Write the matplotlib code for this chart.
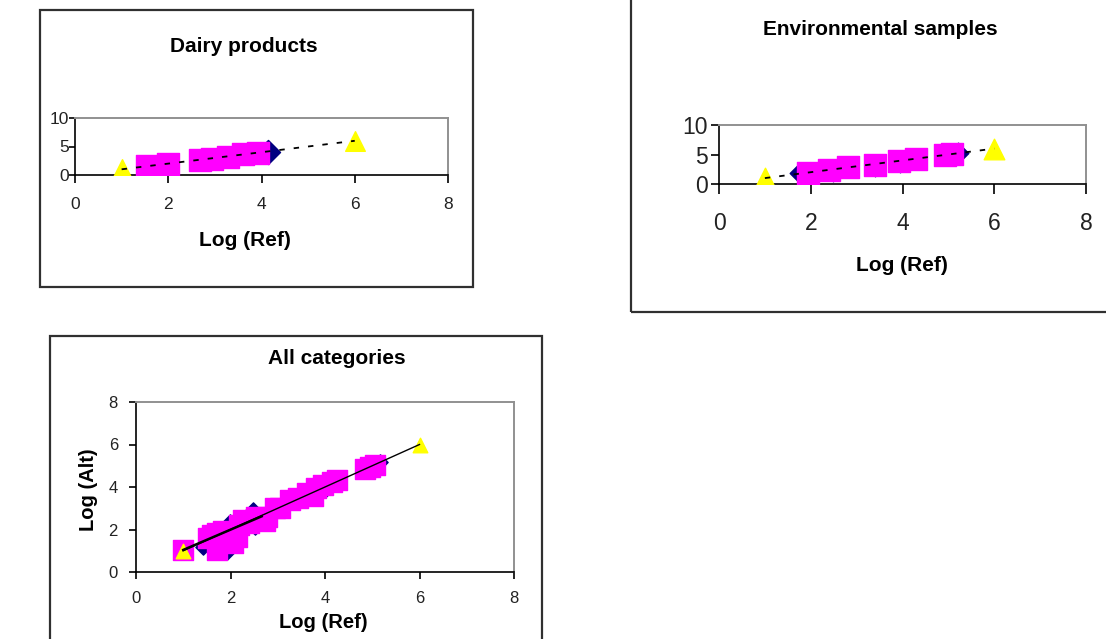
import matplotlib
matplotlib.use("Agg")
import matplotlib.pyplot as plt
from matplotlib.patches import Rectangle

plt.rcParams['font.family'] = ['Liberation Sans', 'DejaVu Sans']

# ---------------- data ----------------
# Dairy products
dairy_ref_x = [1, 6]
dairy_ref_y = [1, 6]
dairy_sq_x = [1.55, 2.0, 2.68, 2.93, 3.28, 3.61, 3.93]
dairy_sq_y = [1.6, 1.9, 2.6, 2.8, 3.2, 3.6, 3.9]
dairy_dm_x = [1.82, 4.14]
dairy_dm_y = [1.6, 4.0]

# Environmental samples
env_ref_x = [1, 6]
env_ref_y = [1, 6]
env_sq_x = [1.94, 2.40, 2.81, 3.40, 3.93, 4.29, 4.92, 5.07]
env_sq_y = [1.8, 2.4, 2.9, 3.3, 3.9, 4.3, 5.0, 5.1]
env_dm_x = [1.76, 1.99, 2.48, 3.40, 3.95, 5.20]
env_dm_y = [1.8, 1.6, 2.2, 3.0, 3.7, 5.2]

# All categories
all_ref_x = [1, 6]
all_ref_y = [1, 6]
all_sq_x = [1.0, 1.53, 1.60, 1.71, 1.71, 1.85, 2.06, 2.13, 2.17, 2.27, 2.40,
            2.55, 2.73, 2.77, 2.94, 3.05, 3.26, 3.43, 3.61, 3.75, 3.82, 3.96,
            4.14, 4.25, 4.85, 4.95, 5.06]
all_sq_y = [1.04, 1.59, 1.75, 1.82, 1.04, 1.95, 1.35, 1.66, 2.21, 2.45, 2.30,
            2.60, 2.40, 2.60, 3.00, 3.00, 3.39, 3.50, 3.70, 3.60, 3.94, 4.09,
            4.25, 4.33, 4.85, 4.95, 5.05]
all_dm_x = [1.42, 1.92, 1.99, 2.48, 2.52, 3.40, 4.00, 5.16]
all_dm_y = [1.19, 0.96, 2.37, 2.92, 2.13, 3.35, 3.85, 5.19]
all_trend2_x = [1.0, 2.66]
all_trend2_y = [1.04, 2.62]

W, H = 1106, 639
fig = plt.figure(figsize=(W / 100, H / 100), dpi=100)


def add_ax(l, r, t, b):
    return fig.add_axes([l / W, (H - b) / H, (r - l) / W, (b - t) / H])


def box(l, r, t, b):
    rect = Rectangle((l / W, (H - b) / H), (r - l) / W, (b - t) / H,
                     transform=fig.transFigure, fill=False,
                     edgecolor='#303030', linewidth=1.6)
    fig.add_artist(rect)


def style(ax, tsize, xpad, ypad, tlen_x, tlen_y):
    for s in ['top', 'right']:
        ax.spines[s].set_color('#909090')
        ax.spines[s].set_linewidth(1.4)
    for s in ['left', 'bottom']:
        ax.spines[s].set_color('black')
        ax.spines[s].set_linewidth(1.2)
    ax.tick_params(axis='x', direction='out', length=tlen_x, width=1.2,
                   labelsize=tsize, pad=xpad, labelcolor='#222222')
    ax.tick_params(axis='y', direction='out', length=tlen_y, width=1.2,
                   labelsize=tsize, pad=ypad, labelcolor='#222222')


def pix_axes(ax, l, r, t, b, px, py):
    return (px - l) / (r - l), (b - py) / (b - t)


# boxes
box(40, 473, 10, 287)
box(631, 1115, -5, 312)
box(50, 542, 336, 650)

dash = (0, (3, 5))

# ---- Panel 1: Dairy ----
L, R, T, B = 75, 448, 118, 175
ax1 = add_ax(L, R, T, B)
ax1.scatter(dairy_dm_x, dairy_dm_y, marker='D', s=150, color='#000080', zorder=2)
ax1.scatter(dairy_sq_x, dairy_sq_y, marker='s', s=270, color='#FF00FF', zorder=3)
ax1.scatter(dairy_ref_x, dairy_ref_y, marker='^', s=200, color='#FFFF00', zorder=4)
ax1.plot(dairy_ref_x, dairy_ref_y, color='black', linestyle=dash, linewidth=1.3, zorder=5)
ax1.set_xlim(0, 8)
ax1.set_ylim(0, 10)
ax1.set_xticks([0, 2, 4, 6, 8])
ax1.set_yticks([0, 5, 10])
style(ax1, 12.5, 10, 0, 6, 4)
tx, ty = pix_axes(ax1, L, R, T, B, 244, 47)
ax1.set_title('Dairy products', fontsize=15, fontweight='bold', x=tx, y=ty, va='center', pad=0)
ax1.set_xlabel('Log (Ref)', fontsize=15, fontweight='bold')
lx, ly = pix_axes(ax1, L, R, T, B, 245, 240)
ax1.xaxis.set_label_coords(lx, ly)
ax1.xaxis.label.set_va('center')

# ---- Panel 2: Environmental ----
L, R, T, B = 719, 1086, 125, 184
ax2 = add_ax(L, R, T, B)
ax2.scatter(env_dm_x, env_dm_y, marker='D', s=110, color='#000080', zorder=2)
ax2.scatter(env_sq_x, env_sq_y, marker='s', s=260, color='#FF00FF', zorder=3)
ax2.scatter(env_ref_x, env_ref_y, marker='^', s=220, color='#FFFF00', zorder=4)
ax2.plot(env_ref_x, env_ref_y, color='black', linestyle=dash, linewidth=1.3, zorder=5)
ax2.set_xlim(0, 8)
ax2.set_ylim(0, 10)
ax2.set_xticks([0, 2, 4, 6, 8])
ax2.set_yticks([0, 5, 10])
style(ax2, 16.5, 13, 2, 7, 6)
tx, ty = pix_axes(ax2, L, R, T, B, 880, 30)
ax2.set_title('Environmental samples', fontsize=15, fontweight='bold', x=tx, y=ty, va='center', pad=0)
ax2.set_xlabel('Log (Ref)', fontsize=15, fontweight='bold')
lx, ly = pix_axes(ax2, L, R, T, B, 902, 265)
ax2.xaxis.set_label_coords(lx, ly)
ax2.xaxis.label.set_va('center')

# ---- Panel 3: All categories ----
L, R, T, B = 136, 514, 402, 572
ax3 = add_ax(L, R, T, B)
ax3.scatter(all_dm_x, all_dm_y, marker='D', s=60, color='#000080', zorder=2)
ax3.scatter(all_sq_x, all_sq_y, marker='s', s=190, color='#FF00FF', zorder=3)
ax3.scatter(all_ref_x, all_ref_y, marker='^', s=110, color='#FFFF00', zorder=4)
ax3.plot(all_ref_x, all_ref_y, color='black', linewidth=1.0, zorder=5)
ax3.plot(all_trend2_x, all_trend2_y, color='black', linewidth=1.8, zorder=5)
ax3.set_xlim(0, 8)
ax3.set_ylim(0, 8)
ax3.set_xticks([0, 2, 4, 6, 8])
ax3.set_yticks([0, 2, 4, 6, 8])
style(ax3, 12, 9, 8, 5, 5)
tx, ty = pix_axes(ax3, L, R, T, B, 337, 359)
ax3.set_title('All categories', fontsize=15, fontweight='bold', x=tx, y=ty, va='center', pad=0)
ax3.set_xlabel('Log (Ref)', fontsize=14.5, fontweight='bold')
lx, ly = pix_axes(ax3, L, R, T, B, 323, 622)
ax3.xaxis.set_label_coords(lx, ly)
ax3.xaxis.label.set_va('center')
ax3.set_ylabel('Log (Alt)', fontsize=14.5, fontweight='bold')
lx, ly = pix_axes(ax3, L, R, T, B, 88, 490)
ax3.yaxis.set_label_coords(lx, ly)
ax3.yaxis.label.set_va('center')

fig.savefig('out.png', dpi=100)
